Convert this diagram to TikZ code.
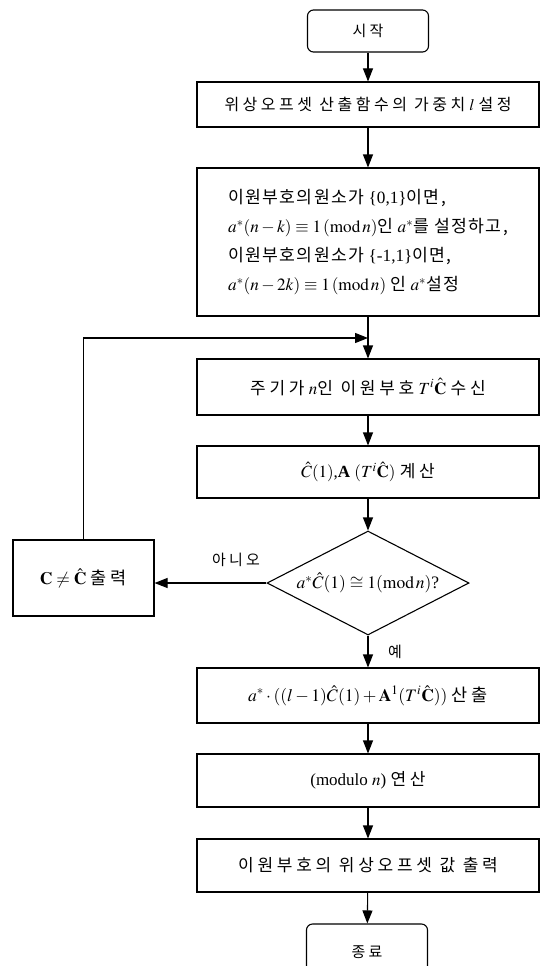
\documentclass[tikz,border=0pt]{standalone}
\usepackage{mathptmx}
\usepackage{fontspec}
\setmainfont{Liberation Serif}
\newfontfamily\krn[LetterSpace=8]{Noto Sans CJK KR}
\newfontfamily\krw[LetterSpace=22]{Noto Sans CJK KR}
\usetikzlibrary{arrows.meta,shapes.geometric}
\tikzset{
  procbox/.style={draw, rectangle, minimum width=342pt, inner sep=2pt, font=\fontsize{17}{20}\selectfont},
  termbox/.style={draw, rectangle, rounded corners=6pt, minimum width=121pt, inner sep=2pt, font=\fontsize{15}{18}\selectfont},
  decision/.style={draw, diamond, aspect=2, inner sep=0pt, minimum width=202pt, minimum height=104pt, font=\fontsize{17.5}{20}\selectfont},
  lbl/.style={inner sep=0pt, font=\fontsize{15}{17}\selectfont},
  flow/.style={-{Triangle[width=10pt,length=13pt]}}
}
\begin{document}
\begin{tikzpicture}[x=1pt,y=-1pt,line width=1.1pt]
\useasboundingbox (0,0) rectangle (540,966);
\clip (0,0) rectangle (540,966);
\node[termbox, minimum height=42pt] (start) at (368,31) {\krw 시작};
\node[procbox, minimum height=45pt, font=\fontsize{16}{19}\selectfont] (b2) at (368,104.5) {{\krw 위상오프셋 산출함수의 가중치} $l$ {\krw 설정}};
\node[procbox, minimum height=148pt, align=left, font=\fontsize{17.2}{29}\selectfont] (b3) at (368,242)
  {{\krn 이원부호의원소가} \{0,1\}{\krn 이면,}\\
   $a^*(n-k)\equiv 1\,(\mathrm{mod}\,n)${\krn 인} $a^*${\krn 를 설정하고,}\\
   {\krn 이원부호의원소가} \{-1,1\}{\krn 이면,}\\
   $a^*(n-2k)\equiv 1\,(\mathrm{mod}\,n)$ {\krn 인} $a^*${\krn 설정}};
\node[procbox, minimum height=56pt] (b4) at (368,387) {{\krw 주기가} $n${\krw 인 이원부호} $T^i\hat{\mathbf{C}}$ {\krw 수신}};
\node[procbox, minimum height=52pt] (b5) at (368,472) {$\hat{C}(1)$,\textbf{A} $(T^i\hat{\mathbf{C}})$ {\krw 계산}};
\node[decision] (dec) at (368,583) {$a^*\hat{C}(1)\cong 1(\mathrm{mod}\,n)$?};
\node[draw, rectangle, minimum width=141pt, minimum height=76pt, inner sep=2pt, font=\fontsize{17.5}{20}\selectfont] (neq) at (83.5,578) {$\mathbf{C}\neq\hat{\mathbf{C}}$ {\krw 출력}};
\node[procbox, minimum height=55pt, font=\fontsize{17.5}{20}\selectfont] (b6) at (368,695.5) {$a^*\cdot((l-1)\hat{C}(1)+\mathbf{A}^1(T^i\hat{\mathbf{C}}))$ {\krw 산출}};
\node[procbox, minimum height=53pt] (b7) at (368,780.5) {(modulo $n$) {\krw 연산}};
\node[procbox, minimum height=53pt] (b8) at (368,865.5) {\krw 이원부호의 위상오프셋 값 출력};
\node[termbox, minimum height=56pt] (stop) at (367,952) {\krw 종료};
\coordinate (merge) at (368,338);
\node[lbl] (no) at (236,560) {\krw 아니오};
\node[lbl] (yes) at (395,652) {\krw 예};
\draw[flow] (start) -- (b2);
\draw[flow] (b2) -- (b3);
\draw (b3) -- (merge);
\draw[flow] (merge) -- (b4);
\draw[flow] (neq.north) |- (merge);
\draw[flow] (b4) -- (b5);
\draw[flow] (b5) -- (dec);
\draw[flow] (dec.west) -- (neq.east |- dec.west);
\draw[flow] (dec) -- (b6);
\draw[flow] (b6) -- (b7);
\draw[flow] (b7) -- (b8);
\draw[flow] (b8) -- (stop);
\end{tikzpicture}
\end{document}
